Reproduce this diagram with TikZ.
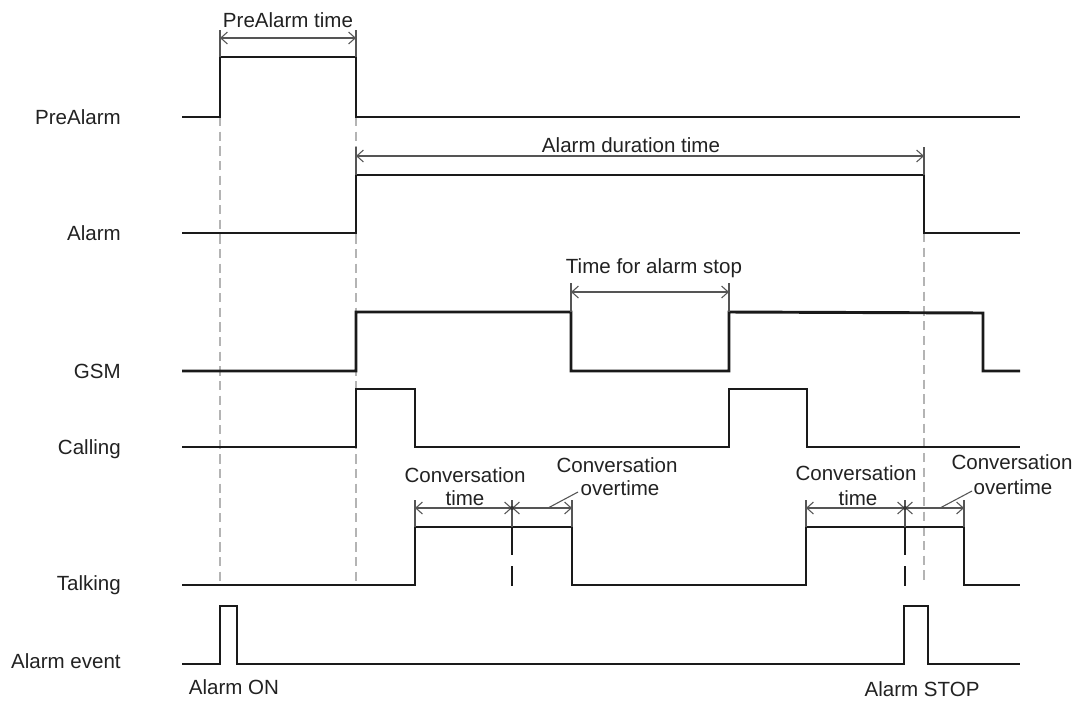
\documentclass[tikz,border=0pt]{standalone}
\usepackage{fontspec}
\setmainfont{Liberation Sans}
\usetikzlibrary{arrows.meta}
\definecolor{sig}{HTML}{1A1A1A}
\definecolor{dimc}{HTML}{555555}
\definecolor{guide}{HTML}{B4B4B4}
\definecolor{txt}{HTML}{222222}
\begin{document}
\begin{tikzpicture}[x=0.75pt,y=-0.75pt,
 signal/.style={draw=sig, line width=2.2pt, line join=miter},
 dimline/.style={draw=dimc, line width=0.8pt, {Straight Barb[length=5pt,width=9pt]}-{Straight Barb[length=5pt,width=9pt]}},
 extline/.style={draw=dimc, line width=0.8pt},
 guideline/.style={draw=guide, line width=0.8pt, dash pattern=on 7pt off 4pt},
 lbl/.style={anchor=base east, inner sep=0pt, text=txt, font=\fontsize{15.4}{18}\selectfont},
 ann/.style={anchor=base, inner sep=0pt, text=txt, font=\fontsize{15.4}{18}\selectfont},
 cut/.style={draw=sig, line width=2.2pt},
]
\useasboundingbox (0,0) rectangle (1080,700);
\fill[white] (0,0) rectangle (1080,700);

% guide lines
\draw[guideline] (220,117) -- (220,585);
\draw[guideline] (356,117) -- (356,585);
\draw[guideline] (924,233) -- (924,583);

% signals
\draw[signal] (182,117) -- (220,117) -- (220,57) -- (356,57) -- (356,117) -- (1020,117);
\draw[signal] (182,233) -- (356,233) -- (356,175) -- (924,175) -- (924,233) -- (1020,233);
\draw[signal] (182,371) -- (356,371) -- (356,312) -- (571,312) -- (571,371) -- (729,371) -- (729,312) -- (983,313) -- (983,371) -- (1020,371);
\draw[signal] (182,447) -- (356,447) -- (356,389) -- (415,389) -- (415,447) -- (729,447) -- (729,389) -- (807,389) -- (807,447) -- (1020,447);
\draw[signal] (182,585) -- (415,585) -- (415,527) -- (572,527) -- (572,585) -- (806,585) -- (806,527) -- (964,527) -- (964,585) -- (1020,585);
\draw[signal] (182,664) -- (220,664) -- (220,606) -- (237,606) -- (237,664) -- (904,664) -- (904,606) -- (928,606) -- (928,664) -- (1020,664);

% conversation time cut marks
\draw[cut] (512,527) -- (512,555);
\draw[cut] (512,566) -- (512,586);
\draw[cut] (905,527) -- (905,555);
\draw[cut] (905,566) -- (905,586);

% PreAlarm time
\draw[extline] (220,30) -- (220,57);
\draw[extline] (356,30) -- (356,57);
\draw[dimline] (220,38) -- (356,38);
\node[ann] (tpre) at (288,27) {PreAlarm time};

% Alarm duration time
\draw[extline] (356,147) -- (356,175);
\draw[extline] (924,147) -- (924,175);
\draw[dimline] (356,156) -- (924,156);
\node[ann] (tdur) at (631,152) {Alarm duration time};

% Time for alarm stop
\draw[extline] (571,283) -- (571,312);
\draw[extline] (729,283) -- (729,312);
\draw[dimline] (571,292) -- (729,292);
\node[ann] (tstop) at (654,273) {Time for alarm stop};

% Conversation 1
\draw[extline] (415,500) -- (415,527);
\draw[extline] (512,500) -- (512,527);
\draw[extline] (572,500) -- (572,527);
\draw[dimline] (415,508) -- (512,508);
\draw[dimline] (512,508) -- (572,508);
\fill[dimc!60!black] (512,508) circle (1.5pt);
\draw[extline] (548,508) -- (578,492);
\node[ann] (ct1a) at (465,482) {Conversation};
\node[ann] (ct1b) at (465,505) {time};
\node[ann] (co1a) at (617,472) {Conversation};
\node[ann] (co1b) at (620,495) {overtime};

% Conversation 2
\draw[extline] (806,500) -- (806,527);
\draw[extline] (905,500) -- (905,527);
\draw[extline] (964,500) -- (964,527);
\draw[dimline] (806,508) -- (905,508);
\draw[dimline] (905,508) -- (964,508);
\fill[dimc!60!black] (905,508) circle (1.5pt);
\draw[extline] (940,508) -- (972,491);
\node[ann] (ct2a) at (856,480) {Conversation};
\node[ann] (ct2b) at (858,505) {time};
\node[ann] (co2a) at (1012,469) {Conversation};
\node[ann] (co2b) at (1013,494) {overtime};

% signal labels
\node[lbl] (lpre) at (121,124) {PreAlarm};
\node[lbl] (lal) at (121,240) {Alarm};
\node[lbl] (lgsm) at (121,378) {GSM};
\node[lbl] (lcall) at (121,454) {Calling};
\node[lbl] (ltalk) at (121,590) {Talking};
\node[lbl] (lev) at (121,668) {Alarm event};

% events
\node[ann] (eon) at (234,694) {Alarm ON};
\node[ann] (estop) at (922,696) {Alarm STOP};
\end{tikzpicture}
\end{document}
